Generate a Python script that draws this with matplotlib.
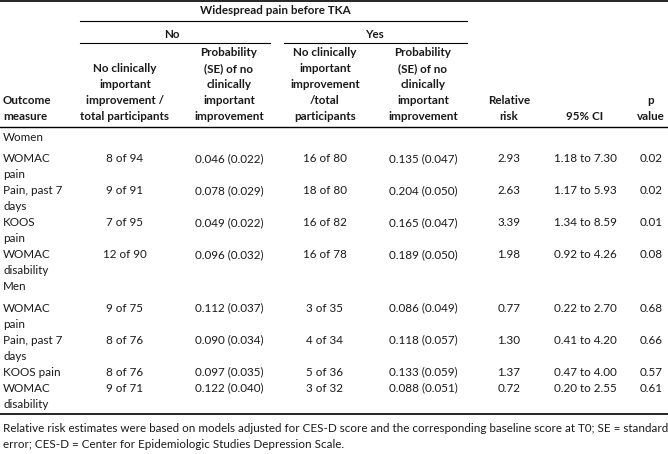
import matplotlib
matplotlib.use("Agg")
import matplotlib.pyplot as plt
from matplotlib.lines import Line2D

# dados da tabela
women_measures = ["WOMAC\npain", "Pain, past 7\ndays", "KOOS\npain", "WOMAC\ndisability"]
women_no_n = ["8 of 94", "9 of 91", "7 of 95", "12 of 90"]
women_no_prob = ["0.046 (0.022)", "0.078 (0.029)", "0.049 (0.022)", "0.096 (0.032)"]
women_yes_n = ["16 of 80", "18 of 80", "16 of 82", "16 of 78"]
women_yes_prob = ["0.135 (0.047)", "0.204 (0.050)", "0.165 (0.047)", "0.189 (0.050)"]
women_rr = ["2.93", "2.63", "3.39", "1.98"]
women_ci = ["1.18 to 7.30", "1.17 to 5.93", "1.34 to 8.59", "0.92 to 4.26"]
women_p = ["0.02", "0.02", "0.01", "0.08"]

men_measures = ["WOMAC\npain", "Pain, past 7\ndays", "KOOS pain", "WOMAC\ndisability"]
men_no_n = ["9 of 75", "8 of 76", "8 of 76", "9 of 71"]
men_no_prob = ["0.112 (0.037)", "0.090 (0.034)", "0.097 (0.035)", "0.122 (0.040)"]
men_yes_n = ["3 of 35", "4 of 34", "5 of 36", "3 of 32"]
men_yes_prob = ["0.086 (0.049)", "0.118 (0.057)", "0.133 (0.059)", "0.088 (0.051)"]
men_rr = ["0.77", "1.30", "1.37", "0.72"]
men_ci = ["0.22 to 2.70", "0.41 to 4.20", "0.47 to 4.00", "0.20 to 2.55"]
men_p = ["0.68", "0.66", "0.57", "0.61"]

col_headers = [
    ["Outcome", "measure"],
    ["No clinically", "important", "improvement /", "total participants"],
    ["Probability", "(SE) of no", "clinically", "important", "improvement"],
    ["No clinically", "important", "improvement", "/total", "participants"],
    ["Probability", "(SE) of no", "clinically", "important", "improvement"],
    ["Relative", "risk"],
    ["95% CI"],
    ["p", "value"],
]

footnote = ["Relative risk estimates were based on models adjusted for CES-D score and the corresponding baseline score at T0; SE = standard",
            "error; CES-D = Center for Epidemiologic Studies Depression Scale."]

W, H = 668, 454
FS = 8.4
COR = "#1a1a1a"
plt.rcParams['font.family'] = ['Lato', 'DejaVu Sans']

fig = plt.figure(figsize=(W / 100, H / 100), dpi=100)


def txt(x, y, s, ha='center', bold=False):
    fig.text(x / W, 1 - y / H, s, ha=ha, va='center', fontsize=FS,
             fontweight='bold' if bold else 'normal', color=COR)


def hline(x0, x1, y, lw=0.8):
    fig.add_artist(Line2D([x0 / W, x1 / W], [1 - y / H, 1 - y / H], color='black',
                          lw=lw, transform=fig.transFigure))


# colunas
col_x = [3, 125, 229, 325, 423, 509, 585, 651]

# cabeçalho
hline(0, W, 1, lw=1.2)
txt(275, 11, "Widespread pain before TKA", bold=True)
hline(80, 467, 21)
txt(172, 34, "No", bold=True)
txt(374, 34, "Yes", bold=True)
hline(80, 270, 43)
hline(284, 467, 43)

last_line = 116
line_h = 15.8
for i, lines in enumerate(col_headers):
    n = len(lines)
    for k, s in enumerate(lines):
        y = last_line - (n - 1 - k) * line_h
        txt(col_x[i], y, s, ha='left' if i == 0 else 'center', bold=True)
hline(0, W, 127, lw=1.0)

# corpo
y = 138
groups = [
    ("Women", women_measures, women_no_n, women_no_prob, women_yes_n, women_yes_prob, women_rr, women_ci, women_p),
    ("Men", men_measures, men_no_n, men_no_prob, men_yes_n, men_yes_prob, men_rr, men_ci, men_p),
]
for g in groups:
    txt(3, y, g[0], ha='left')
    y += 21
    for r in range(len(g[1])):
        label_lines = g[1][r].split("\n")
        for k, s in enumerate(label_lines):
            txt(3, y + k * 16, s, ha='left')
        for c in range(2, 9):
            txt(col_x[c - 1], y, g[c][r])
        y += 16 * len(label_lines)

hline(0, W, 414, lw=1.2)

txt(3, 429, footnote[0], ha='left')
txt(3, 444, footnote[1], ha='left')

fig.savefig("out.png", dpi=100)
